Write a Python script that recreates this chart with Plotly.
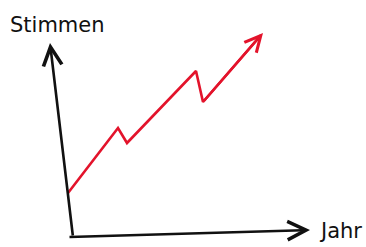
import plotly.graph_objects as go

# Data (hand-drawn sketch: votes rising over the years with two setbacks)
jahr = [0, 10, 11.8, 25.6, 27.0, 39.0]
stimmen = [8.8, 21.8, 18.8, 33.2, 27.0, 40.8]

x_label = "Jahr"
y_label = "Stimmen"

# axis extents (in data units) for the hand-drawn axes
x_axis_end = [48.4, 1.4]
y_axis_end = [-3.6, 38.8]
origin = [1.0, 0.0]

RED = "#e3132b"
INK = "#111111"

fig = go.Figure()

fig.add_trace(go.Scatter(
    x=jahr[:-1] + [jahr[-1] - 0.4], y=stimmen[:-1] + [stimmen[-1] - 0.4],
    mode="lines", line=dict(color=RED, width=2.6), hoverinfo="skip",
    showlegend=False,
))

annotations = []
# red arrow head
annotations.append(dict(
    x=jahr[-1], y=stimmen[-1], ax=jahr[-2], ay=stimmen[-2],
    xref="x", yref="y", axref="x", ayref="y",
    text="", showarrow=True, arrowhead=5, arrowsize=1.2,
    arrowwidth=2.6, arrowcolor=RED,
))
# y axis
annotations.append(dict(
    x=y_axis_end[0], y=y_axis_end[1], ax=origin[0], ay=origin[1],
    xref="x", yref="y", axref="x", ayref="y",
    text="", showarrow=True, arrowhead=5, arrowsize=1.4,
    arrowwidth=2.6, arrowcolor=INK,
))
# x axis
annotations.append(dict(
    x=x_axis_end[0], y=x_axis_end[1], ax=origin[0] - 1.0, ay=origin[1],
    xref="x", yref="y", axref="x", ayref="y",
    text="", showarrow=True, arrowhead=5, arrowsize=1.4,
    arrowwidth=2.6, arrowcolor=INK,
))
# labels
annotations.append(dict(
    x=57 / 366, y=1 - 25 / 247, xref="paper", yref="paper",
    text=y_label, showarrow=False, xanchor="center", yanchor="middle",
    font=dict(family="DejaVu Sans", size=21, color=INK),
))
annotations.append(dict(
    x=340 / 366, y=1 - 231 / 247, xref="paper", yref="paper",
    text=x_label, showarrow=False, xanchor="center", yanchor="middle",
    font=dict(family="DejaVu Sans", size=21, color=INK),
))

fig.update_layout(
    width=366, height=247,
    margin=dict(l=0, r=0, t=0, b=0),
    paper_bgcolor="white", plot_bgcolor="white",
    xaxis=dict(range=[-13.6, 59.6], visible=False, fixedrange=True),
    yaxis=dict(range=[-2.0, 47.4], visible=False, fixedrange=True),
    annotations=annotations,
    showlegend=False,
)

fig.write_html(
    "out.html",
    config={"displayModeBar": False},
    post_script="document.body.style.margin='0';document.body.style.overflow='hidden';",
)
